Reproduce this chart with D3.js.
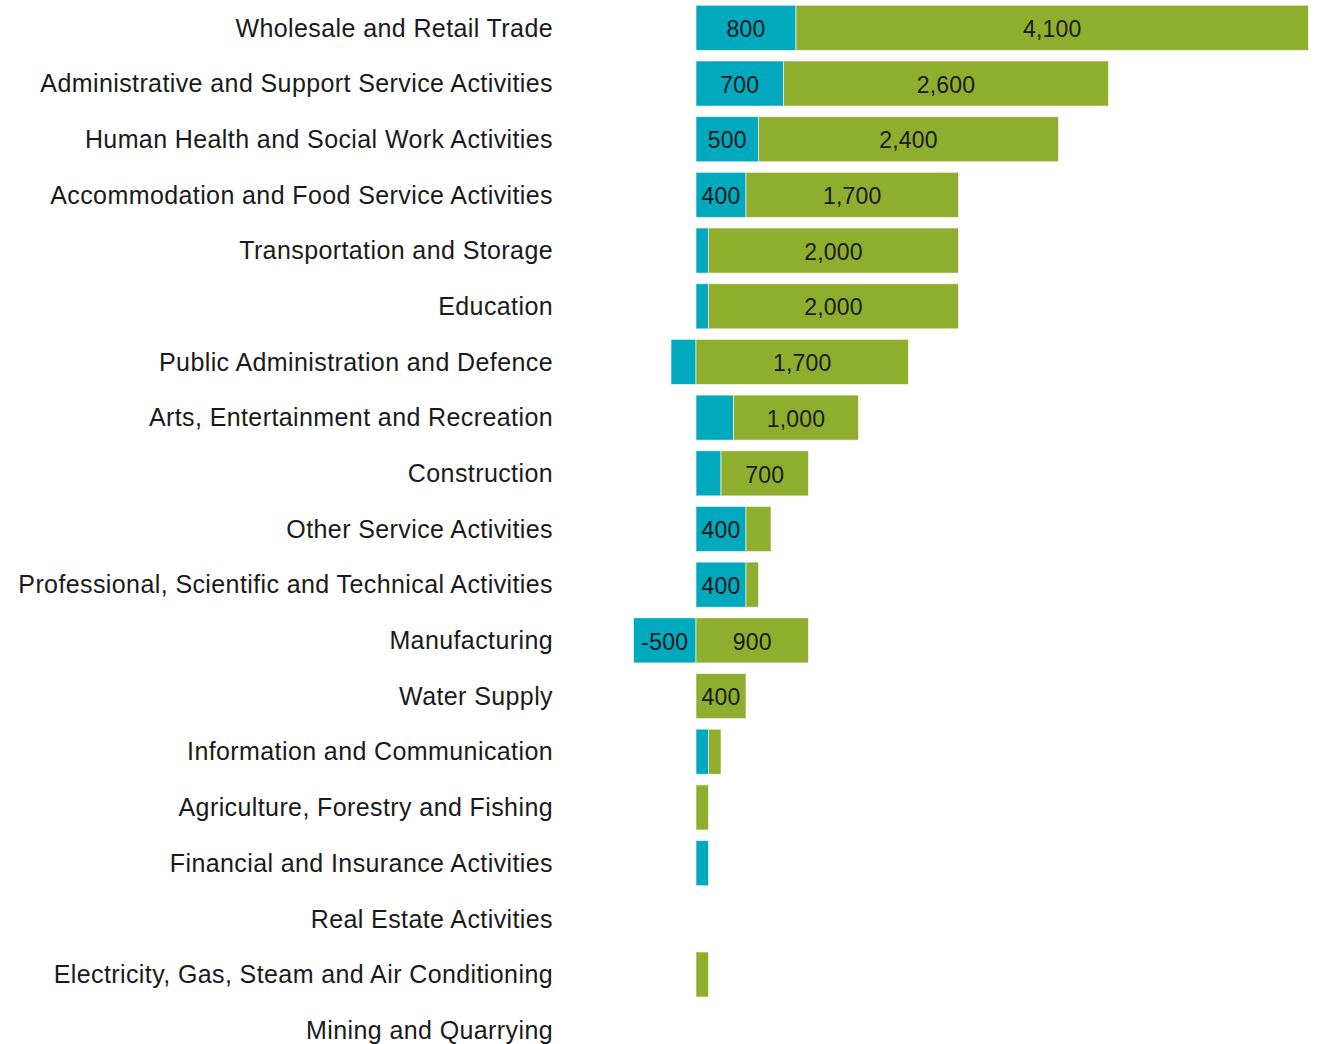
<!DOCTYPE html>
<html>
<head>
<meta charset="utf-8">
<script src="https://cdn.jsdelivr.net/npm/d3@7"></script>
<style>
  body { margin: 0; background: #fff; }
  text { font-family: "Liberation Sans", Arial, sans-serif; }
</style>
</head>
<body>
<svg id="chart" width="1319" height="1044"></svg>
<script>
// Categories, top to bottom
const sectors = [
  'Wholesale and Retail Trade',
  'Administrative and Support Service Activities',
  'Human Health and Social Work Activities',
  'Accommodation and Food Service Activities',
  'Transportation and Storage',
  'Education',
  'Public Administration and Defence',
  'Arts, Entertainment and Recreation',
  'Construction',
  'Other Service Activities',
  'Professional, Scientific and Technical Activities',
  'Manufacturing',
  'Water Supply',
  'Information and Communication',
  'Agriculture, Forestry and Fishing',
  'Financial and Insurance Activities',
  'Real Estate Activities',
  'Electricity, Gas, Steam and Air Conditioning',
  'Mining and Quarrying'
];

// teal series
const seriesA = [800, 700, 500, 400, 100, 100, -200, 300, 200, 400, 400, -500, 0, 100, 0, 100, 0, 0, 0];
// green series
const seriesB = [4100, 2600, 2400, 1700, 2000, 2000, 1700, 1000, 700, 200, 100, 900, 400, 100, 100, 0, 0, 100, 0];

const keys = ['a', 'b'];
const colors = { a: '#00a9bd', b: '#90ae2d' };

const rows = sectors.map((s, i) => ({ sector: s, a: seriesA[i], b: seriesB[i] }));

const svg = d3.select('#chart');

const stacked = d3.stack()
  .keys(keys)
  .offset(d3.stackOffsetDiverging)(rows);

const xMin = d3.min(stacked, s => d3.min(s, d => d[0]));
const xMax = d3.max(stacked, s => d3.max(s, d => d[1]));

// 0.125 px per unit, zero at 696
const x = d3.scaleLinear()
  .domain([xMin, xMax])
  .range([696 + xMin * 0.125, 696 + xMax * 0.125]);

const y = d3.scaleBand()
  .domain(sectors)
  .range([0, 1058])
  .paddingInner(0.19)
  .paddingOuter(0.095);

// category labels
svg.append('g')
  .selectAll('text')
  .data(sectors)
  .join('text')
  .attr('x', 553)
  .attr('y', d => y(d) + y.bandwidth() / 2)
  .attr('dy', '0.35em')
  .attr('text-anchor', 'end')
  .style('font-size', '25px')
  .style('letter-spacing', '0.4px')
  .style('fill', '#1a1a1a')
  .text(d => d);

const fmt = v => d3.format(',')(v).replace('\u2212', '-');

const layer = svg.append('g')
  .selectAll('g')
  .data(stacked)
  .join('g')
  .attr('fill', s => colors[s.key]);

layer.selectAll('rect')
  .data(s => s.map(d => ({ d, key: s.key })))
  .join('rect')
  .attr('x', o => x(Math.min(o.d[0], o.d[1])))
  .attr('y', o => y(o.d.data.sector))
  .attr('width', o => Math.abs(x(o.d[1]) - x(o.d[0])))
  .attr('height', y.bandwidth())
  .attr('stroke', 'rgba(255,255,255,0.6)')
  .attr('stroke-width', 1);

// value labels, only where the segment is wide enough
layer.selectAll('text')
  .data(s => s.map(d => ({ d, key: s.key })).filter(o => Math.abs(x(o.d[1]) - x(o.d[0])) >= 45))
  .join('text')
  .attr('x', o => (x(o.d[0]) + x(o.d[1])) / 2)
  .attr('y', o => y(o.d.data.sector) + y.bandwidth() / 2)
  .attr('dy', '0.4em')
  .attr('text-anchor', 'middle')
  .style('font-size', '23px')
  .style('letter-spacing', '0.2px')
  .style('fill', '#1a1a1a')
  .text(o => fmt(o.d.data[o.key]));
</script>
</body>
</html>
